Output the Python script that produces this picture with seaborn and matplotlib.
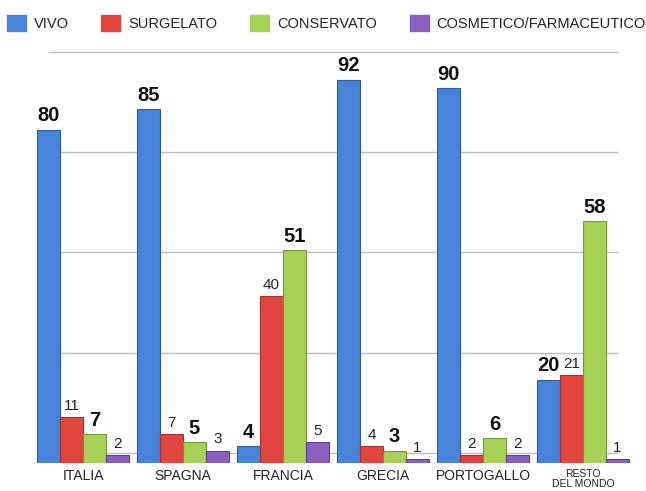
import seaborn as sns
import pandas as pd
import matplotlib.pyplot as plt

# data
paesi = ['ITALIA', 'SPAGNA', 'FRANCIA', 'GRECIA', 'PORTOGALLO', 'RESTO\nDEL MONDO']
categorie = ['VIVO', 'SURGELATO', 'CONSERVATO', 'COSMETICO/FARMACEUTICO']
vivo = [80, 85, 4, 92, 90, 20]
surgelato = [11, 7, 40, 4, 2, 21]
conservato = [7, 5, 51, 3, 6, 58]
cosmetico = [2, 3, 5, 1, 2, 1]

colori = ['#4784d9', '#e0463f', '#a7d157', '#8a5fc0']
bordi = ['#2b5c9e', '#a2302b', '#74973a', '#5e3f8a']

rows = []
for cat, vals in zip(categorie, [vivo, surgelato, conservato, cosmetico]):
    for p, v in zip(paesi, vals):
        rows.append({'paese': p, 'categoria': cat, 'valore': v})
df = pd.DataFrame(rows)

sns.set_style('white')
plt.rcParams['font.family'] = ['Liberation Sans', 'DejaVu Sans']

fig = plt.figure(figsize=(6.46, 4.91), dpi=100)
ax = fig.add_axes([0.0511, 0.057, 0.9288, 0.849])

# background grid lines (offset like the 3D wall of the original)
ax.hlines([2.4, 26.5, 50.5, 74.5, 98.6], -0.35, 5.35, color='#bdbdbd', lw=1, zorder=0)

sns.barplot(data=df, x='paese', y='valore', hue='categoria', order=paesi,
            hue_order=categorie, palette=colori, width=0.92, gap=0,
            saturation=1, ax=ax, legend=False, zorder=2)

for i, cont in enumerate(ax.containers):
    for b in cont:
        b.set_edgecolor(bordi[i])
        b.set_linewidth(0.8)
    if i in (0, 2):
        ax.bar_label(cont, padding=3, fontsize=14.5, fontweight='bold', color='#111111')
    else:
        ax.bar_label(cont, padding=3, fontsize=11, color='#222222')

ax.set_xlim(-0.5, 5.5)
ax.set_ylim(0, 100)
ax.set_xlabel('')
ax.set_ylabel('')
ax.set_yticks([])
ax.tick_params(axis='x', length=0, pad=4, labelsize=10, labelcolor='#222222')
for lbl in ax.get_xticklabels():
    if 'RESTO' in lbl.get_text():
        lbl.set_fontsize(7.5)
        lbl.set_linespacing(1.0)
sns.despine(ax=ax, left=True, bottom=True)

# legend
handles = [plt.Rectangle((0, 0), 1, 1, color=c) for c in colori]
fig.legend(handles, categorie, loc='center', bbox_to_anchor=(0.505, 0.953), ncol=4,
           frameon=False, fontsize=10.5, handlelength=1.3, handleheight=1.3,
           handletextpad=0.55, columnspacing=2.25, labelcolor='#222222')

fig.savefig('out.png', dpi=100)
